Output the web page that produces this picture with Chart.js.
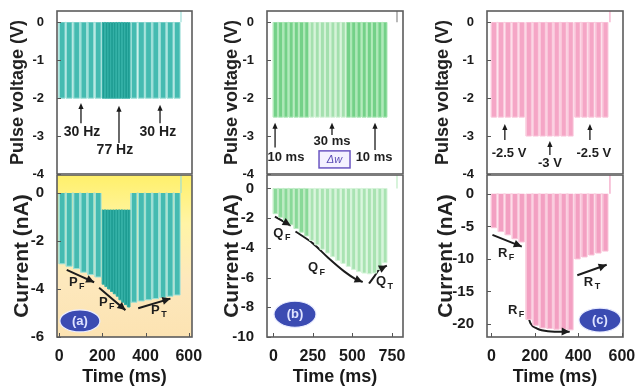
<!DOCTYPE html>
<html>
<head>
<meta charset="utf-8">
<script src="https://cdn.jsdelivr.net/npm/chart.js@4.4.1/dist/chart.umd.min.js"></script>
<style>
  html, body { margin: 0; padding: 0; background: #ffffff; }
  #fig { position: relative; width: 636px; height: 387px; overflow: hidden; background: #ffffff; }
  #fig canvas { position: absolute; }
</style>
</head>
<body>
<div id="fig"></div>
<script>
const FONT = "'Liberation Sans', Arial, Helvetica, sans-serif";

// ---------- Panel (a): 30 Hz -> 77 Hz -> 30 Hz trains at -2 V ----------
const aTimeTicks = [0, 200, 400, 600];
const aVoltTicks = [0, -1, -2, -3, -4];
const aCurrTicks = [0, -2, -4, -6];
const aOnsetsA = [0, 33, 67, 100, 133, 167];
const aOnsetsB = [200, 213, 226, 239, 252, 265, 278, 291, 304, 317];
const aOnsetsC = [333, 367, 400, 433, 467, 500, 533];
const aWidthSlow = 27, aWidthFast = 11;      // pulse length, ms
const aPulseV = -2;
const aPeaksA = [-2.95, -3.05, -3.15, -3.3, -3.4, -3.5];
const aPeaksB = [-3.8, -3.9, -4.0, -4.1, -4.2, -4.3, -4.45, -4.55, -4.65, -4.75];
const aPeaksC = [-4.55, -4.5, -4.45, -4.4, -4.35, -4.3, -4.25];
const aRestB = -0.7;                           // current does not recover between 77 Hz pulses
const aTail = 564;
const aTrend1 = [[35, -3.2], [162, -3.72]];
const aTrend2 = [[185, -3.95], [307, -4.88]];
const aTrend3 = [[366, -4.8], [515, -4.4]];

// ---------- Panel (b): pulse width 10 ms -> 30 ms -> 10 ms at -2.5 V ----------
const bTimeTicks = [0, 250, 500, 750];
const bVoltTicks = [0, -1, -2, -3, -4];
const bCurrTicks = [0, -2, -4, -6, -8, -10];
const bOnsetsA = [0, 33, 66, 99, 132, 165, 198];
const bOnsetsB = [231, 264, 297, 330, 363, 396, 429];
const bOnsetsC = [462, 495, 528, 561, 594, 627, 660, 693];
const bWidth = 26;
const bPulseV = -2.5;
const bPeaksA = [-1.7, -1.95, -2.2, -2.45, -2.7, -2.95, -3.2];
const bPeaksB = [-3.5, -3.8, -4.1, -4.35, -4.6, -4.85, -5.05];
const bPeaksC = [-5.25, -5.45, -5.6, -5.7, -5.75, -5.7, -5.45, -5.0];
const bTail = 782;
const bTrend1 = [[10, -1.9], [110, -2.5]];
const bTrend2 = [[140, -2.9], [250, -3.7], [350, -4.7], [450, -5.6], [520, -6.1], [565, -6.3]];
const bTrend3 = [[605, -6.4], [640, -5.9], [670, -5.45], [718, -5.2]];

// ---------- Panel (c): amplitude -2.5 V -> -3 V -> -2.5 V ----------
const cTimeTicks = [0, 200, 400, 600];
const cVoltTicks = [0, -1, -2, -3, -4];
const cCurrTicks = [0, -5, -10, -15, -20];
const cOnsetsA = [0, 32, 64, 96, 128];
const cOnsetsB = [160, 192, 224, 256, 288, 320, 352];
const cOnsetsC = [384, 416, 448, 480, 512];
const cWidth = 24;
const cLevels = [-2.5, -3, -2.5];
const cPeaksA = [-5.2, -5.8, -6.3, -6.9, -7.4];
const cPeaksB = [-19.3, -20.2, -20.6, -20.7, -20.8, -20.8, -20.9];
const cPeaksC = [-10.0, -9.7, -9.4, -9.1, -8.8];
const cTail = 545;
const cTrend1 = [[5, -6.3], [140, -8.1]];
const cTrend2 = [[165, -18.3], [180, -19.9], [210, -20.7], [260, -21.1], [360, -21.2]];
const cTrend3 = [[395, -12.5], [530, -10.9]];

// ---------- helpers ----------
const fig = document.getElementById('fig');
function addCanvas(left, top, w, h) {
  const c = document.createElement('canvas');
  c.width = w; c.height = h;
  c.style.left = left + 'px'; c.style.top = top + 'px';
  c.style.width = w + 'px'; c.style.height = h + 'px';
  fig.appendChild(c);
  return c;
}

// rectangular pulses: rest -> peak -> rest for every onset
function pulseTrace(onsets, width, peaks, rest) {
  const pts = [];
  onsets.forEach((t, i) => {
    const p = Array.isArray(peaks) ? peaks[i] : peaks;
    pts.push({x: t, y: rest}, {x: t, y: p}, {x: t + width, y: p}, {x: t + width, y: rest});
  });
  return pts;
}
function pulseSet(points, fill, edge, rest) {
  return {data: points, backgroundColor: fill, borderColor: edge, borderWidth: 1,
          fill: {value: rest}, pointRadius: 0, tension: 0};
}
function tailSet(t, top, color) {
  return {data: [{x: t, y: 0}, {x: t, y: top}], borderColor: color, borderWidth: 1.2,
          fill: false, pointRadius: 0, tension: 0};
}
function trendSet(points) {
  return {data: points.map(([x, y]) => ({x, y})), borderColor: '#1c1c1c', borderWidth: 2,
          fill: false, pointRadius: 0, cubicInterpolationMode: 'monotone', arrowHead: true};
}

function arrowHead(ctx, x0, y0, x1, y1, len, half, color) {
  const ang = Math.atan2(y1 - y0, x1 - x0);
  const c = Math.cos(ang), s = Math.sin(ang);
  ctx.save();
  ctx.fillStyle = color;
  ctx.beginPath();
  ctx.moveTo(x1, y1);
  ctx.lineTo(x1 - len * c - half * s, y1 - len * s + half * c);
  ctx.lineTo(x1 - len * c + half * s, y1 - len * s - half * c);
  ctx.closePath();
  ctx.fill();
  ctx.restore();
}

function makeDecor(d) {
  return {
    id: 'decor',
    beforeDraw(chart) {
      if (!d.bg) return;
      const {ctx, chartArea: a} = chart;
      const g = ctx.createLinearGradient(0, a.top, 0, a.bottom);
      d.bg.forEach(([o, col]) => g.addColorStop(o, col));
      ctx.save(); ctx.fillStyle = g; ctx.fillRect(a.left, a.top, a.width, a.height); ctx.restore();
    },
    afterDatasetsDraw(chart) {
      const ctx = chart.ctx;
      chart.data.datasets.forEach((ds, i) => {
        if (!ds.arrowHead) return;
        const pts = chart.getDatasetMeta(i).data;
        const p0 = pts[pts.length - 2], p1 = pts[pts.length - 1];
        arrowHead(ctx, p0.x, p0.y, p1.x, p1.y, 8, 4, ds.borderColor);
      });
    },
    afterDraw(chart) {
      const {ctx, chartArea: a, scales: {x, y}} = chart;
      ctx.save();
      // inward tick marks
      ctx.strokeStyle = '#555'; ctx.lineWidth = 1;
      y.ticks.forEach(tk => {
        const py = Math.round(y.getPixelForValue(tk.value)) + 0.5;
        ctx.beginPath(); ctx.moveTo(a.left, py); ctx.lineTo(a.left + 4, py); ctx.stroke();
      });
      if (d.showX) {
        x.ticks.forEach(tk => {
          const px = Math.round(x.getPixelForValue(tk.value)) + 0.5;
          ctx.beginPath(); ctx.moveTo(px, a.bottom); ctx.lineTo(px, a.bottom - 4); ctx.stroke();
        });
      }
      // frame
      ctx.strokeStyle = '#5c5c5c'; ctx.lineWidth = 1.6;
      ctx.strokeRect(a.left, a.top, a.width, a.height);
      // upward pointers
      (d.arrows || []).forEach(ar => {
        const px = x.getPixelForValue(ar.x), y0 = y.getPixelForValue(ar.from), y1 = y.getPixelForValue(ar.to);
        ctx.strokeStyle = '#1a1a1a'; ctx.lineWidth = 1.3;
        ctx.beginPath(); ctx.moveTo(px, y0); ctx.lineTo(px, y1 + 4); ctx.stroke();
        arrowHead(ctx, px, y0, px, y1, 6, 2.6, '#1a1a1a');
      });
      // boxed label
      if (d.box) {
        const b = d.box;
        const x0 = x.getPixelForValue(b.x0), x1 = x.getPixelForValue(b.x1);
        const y0 = y.getPixelForValue(b.y0), y1 = y.getPixelForValue(b.y1);
        ctx.fillStyle = '#f4f1ff'; ctx.fillRect(x0, y0, x1 - x0, y1 - y0);
        ctx.strokeStyle = '#6b56c2'; ctx.lineWidth = 1.5; ctx.strokeRect(x0, y0, x1 - x0, y1 - y0);
        ctx.fillStyle = '#5a4bb5'; ctx.font = 'italic 11px ' + FONT;
        ctx.textAlign = 'center'; ctx.textBaseline = 'middle';
        ctx.fillText(b.text, (x0 + x1) / 2, (y0 + y1) / 2 + 0.5);
      }
      // text notes
      (d.notes || []).forEach(n => {
        const px = x.getPixelForValue(n.x), py = y.getPixelForValue(n.y);
        ctx.fillStyle = '#1e1e1e';
        ctx.textBaseline = 'middle';
        ctx.font = 'bold ' + n.size + 'px ' + FONT;
        if (n.sub) {
          ctx.textAlign = 'left';
          ctx.fillText(n.text, px, py);
          const w = ctx.measureText(n.text).width;
          ctx.font = 'bold ' + Math.round(n.size * 0.68) + 'px ' + FONT;
          ctx.fillText(n.sub, px + w + 1.5, py + n.size * 0.35);
        } else {
          ctx.textAlign = 'center';
          ctx.fillText(n.text, px, py);
        }
      });
      // panel badge
      if (d.badge) {
        const bd = d.badge;
        const px = x.getPixelForValue(bd.x), py = y.getPixelForValue(bd.y);
        ctx.beginPath(); ctx.ellipse(px, py, bd.rx, bd.ry, 0, 0, Math.PI * 2);
        ctx.fillStyle = '#3b4bb2'; ctx.fill();
        ctx.strokeStyle = '#e9ecff'; ctx.lineWidth = 1.2; ctx.stroke();
        ctx.fillStyle = '#dfe3ff'; ctx.font = 'bold 13px ' + FONT;
        ctx.textAlign = 'center'; ctx.textBaseline = 'middle';
        ctx.fillText(bd.text, px, py + 0.5);
      }
      ctx.restore();
    }
  };
}

function makePanel(cfg) {
  const canvas = addCanvas(cfg.left, cfg.top, cfg.width, cfg.height);
  const ink = '#1a1a1a';
  return new Chart(canvas, {
    type: 'line',
    data: {datasets: cfg.datasets},
    options: {
      responsive: false, animation: false, events: [],
      layout: {padding: cfg.padding},
      plugins: {legend: {display: false}, tooltip: {enabled: false}},
      scales: {
        x: {
          type: 'linear', min: cfg.xMin, max: cfg.xMax, display: cfg.showX,
          grid: {display: false}, border: {display: false},
          ticks: {font: {family: FONT, size: 16, weight: 'bold'}, color: ink, padding: 2,
                  autoSkip: false, maxRotation: 0},
          title: {display: cfg.showX, text: 'Time (ms)', color: ink,
                  font: {family: FONT, size: 18, weight: 'bold', lineHeight: 1},
                  padding: {top: 0, bottom: 1}},
          afterBuildTicks: s => { s.ticks = cfg.xTicks.map(v => ({value: v})); },
          afterFit: s => { if (cfg.showX) { s.height = 50; } s.paddingLeft = 0; s.paddingRight = 0; }
        },
        y: {
          type: 'linear', min: cfg.yMin, max: cfg.yMax,
          grid: {display: false}, border: {display: false},
          ticks: {font: {family: FONT, size: cfg.tickSize, weight: 'bold'}, color: ink, padding: 5,
                  autoSkip: false},
          title: {display: true, text: cfg.yTitle, color: '#222',
                  font: {family: FONT, size: cfg.yTitleSize, weight: 'bold', lineHeight: 1},
                  padding: {top: cfg.yTitlePad, bottom: 0}},
          afterBuildTicks: s => { s.ticks = cfg.yTicks.map(v => ({value: v})); },
          afterFit: s => { s.width = 57; s.paddingTop = 0; s.paddingBottom = 0; }
        }
      }
    },
    plugins: [makeDecor(Object.assign({showX: cfg.showX}, cfg.decor))]
  });
}

// ---------- colours ----------
const TEAL = '#45bbb1', TEAL_EDGE = '#9ddfd8', TEAL_DARK = '#1f9d93', TEAL_DARK_EDGE = '#34b0a6';
const GREEN = '#74d188', GREEN_EDGE = '#ade8b7', GREEN_MID = '#a4e0ae', GREEN_MID_EDGE = '#d2f2d6';
const GREEN_LO = '#89d998', GREEN_LO_EDGE = '#bdebc3', GREEN_LO_MID = '#a9e3b2', GREEN_LO_MID_EDGE = '#d6f4da';
const PINK = '#f5a6c6', PINK_EDGE = '#fac9dc', PINK_LO = '#f3a0c2', PINK_LO_EDGE = '#f9c5d9';

// ---------- (a) ----------
makePanel({
  left: 0, top: 0, width: 212, height: 190, padding: {left: 0, top: 11, right: 20, bottom: 16},
  xMin: -10, xMax: 615, yMin: -4, yMax: 0.3, xTicks: aTimeTicks, yTicks: aVoltTicks, showX: false,
  tickSize: 13, yTitle: 'Pulse voltage (V)', yTitleSize: 18, yTitlePad: 9,
  datasets: [
    pulseSet(pulseTrace(aOnsetsA, aWidthSlow, aPulseV, 0), TEAL, TEAL_EDGE, 0),
    pulseSet(pulseTrace(aOnsetsB, aWidthFast, aPulseV, 0), TEAL_DARK, TEAL_DARK_EDGE, 0),
    pulseSet(pulseTrace(aOnsetsC, aWidthSlow, aPulseV, 0), TEAL, TEAL_EDGE, 0),
    tailSet(aTail, 1, TEAL_EDGE)
  ],
  decor: {
    arrows: [{x: 101, from: -2.66, to: -2.13}, {x: 277, from: -3.18, to: -2.2}, {x: 467, from: -2.66, to: -2.17}],
    notes: [{x: 106, y: -2.9, text: '30 Hz', size: 14}, {x: 258, y: -3.37, text: '77 Hz', size: 14},
            {x: 457, y: -2.9, text: '30 Hz', size: 14}]
  }
});
makePanel({
  left: 0, top: 175, width: 212, height: 212, padding: {left: 0, top: 0, right: 20, bottom: 0},
  xMin: -10, xMax: 615, yMin: -6, yMax: 0.75, xTicks: aTimeTicks, yTicks: aCurrTicks, showX: true,
  tickSize: 15, yTitle: 'Current (nA)', yTitleSize: 21, yTitlePad: 12,
  datasets: [
    pulseSet(pulseTrace(aOnsetsA, aWidthSlow, aPeaksA, 0), TEAL, TEAL_EDGE, 0),
    pulseSet(pulseTrace(aOnsetsB, aWidthFast, aPeaksB, aRestB), TEAL_DARK, TEAL_DARK_EDGE, aRestB),
    pulseSet(pulseTrace(aOnsetsC, aWidthSlow, aPeaksC, 0), TEAL, TEAL_EDGE, 0),
    tailSet(aTail, 1, TEAL_EDGE),
    trendSet(aTrend1), trendSet(aTrend2), trendSet(aTrend3)
  ],
  decor: {
    bg: [[0, '#fff06a'], [0.3, '#fff4a6'], [0.65, '#fde8bd'], [1, '#fce3b2']],
    notes: [{x: 45, y: -3.71, text: 'P', sub: 'F', size: 13}, {x: 184, y: -4.54, text: 'P', sub: 'F', size: 13},
            {x: 425, y: -4.88, text: 'P', sub: 'T', size: 13}],
    badge: {x: 96, y: -5.33, rx: 20, ry: 11, text: '(a)'}
  }
});

// ---------- (b) ----------
makePanel({
  left: 210, top: 0, width: 211, height: 190, padding: {left: 0, top: 11, right: 18, bottom: 16},
  xMin: -40, xMax: 820, yMin: -4, yMax: 0.3, xTicks: bTimeTicks, yTicks: bVoltTicks, showX: false,
  tickSize: 13, yTitle: 'Pulse voltage (V)', yTitleSize: 18, yTitlePad: 13,
  datasets: [
    pulseSet(pulseTrace(bOnsetsA, bWidth, bPulseV, 0), GREEN, GREEN_EDGE, 0),
    pulseSet(pulseTrace(bOnsetsB, bWidth, bPulseV, 0), GREEN_MID, GREEN_MID_EDGE, 0),
    pulseSet(pulseTrace(bOnsetsC, bWidth, bPulseV, 0), GREEN, GREEN_EDGE, 0),
    tailSet(bTail, 1, '#8a8a8a')
  ],
  decor: {
    arrows: [{x: 11, from: -3.3, to: -2.65}, {x: 371, from: -2.97, to: -2.65}, {x: 643, from: -3.37, to: -2.65}],
    notes: [{x: 80, y: -3.55, text: '10 ms', size: 13}, {x: 371, y: -3.13, text: '30 ms', size: 13},
            {x: 637, y: -3.55, text: '10 ms', size: 13}],
    box: {x0: 289, x1: 485, y0: -3.39, y1: -3.84, text: 'Δw'}
  }
});
makePanel({
  left: 210, top: 175, width: 211, height: 212, padding: {left: 0, top: 0, right: 18, bottom: 0},
  xMin: -40, xMax: 820, yMin: -10, yMax: 0.9, xTicks: bTimeTicks, yTicks: bCurrTicks, showX: true,
  tickSize: 15, yTitle: 'Current (nA)', yTitleSize: 21, yTitlePad: 12,
  datasets: [
    pulseSet(pulseTrace(bOnsetsA, bWidth, bPeaksA, 0), GREEN_LO, GREEN_LO_EDGE, 0),
    pulseSet(pulseTrace(bOnsetsB, bWidth, bPeaksB, 0), GREEN_LO_MID, GREEN_LO_MID_EDGE, 0),
    pulseSet(pulseTrace(bOnsetsC, bWidth, bPeaksC, 0), GREEN_LO_MID, GREEN_LO_MID_EDGE, 0),
    tailSet(bTail, 1, GREEN_LO_EDGE),
    trendSet(bTrend1), trendSet(bTrend2), trendSet(bTrend3)
  ],
  decor: {
    notes: [{x: 0, y: -3.03, text: 'Q', sub: 'F', size: 13}, {x: 219, y: -5.33, text: 'Q', sub: 'F', size: 13},
            {x: 649, y: -6.28, text: 'Q', sub: 'T', size: 13}],
    badge: {x: 137, y: -8.47, rx: 21, ry: 13, text: '(b)'}
  }
});

// ---------- (c) ----------
makePanel({
  left: 430, top: 0, width: 206, height: 190, padding: {left: 0, top: 11, right: 13, bottom: 16},
  xMin: -20, xMax: 605, yMin: -4, yMax: 0.3, xTicks: cTimeTicks, yTicks: cVoltTicks, showX: false,
  tickSize: 13, yTitle: 'Pulse voltage (V)', yTitleSize: 18, yTitlePad: 4.5,
  datasets: [
    pulseSet(pulseTrace(cOnsetsA, cWidth, cLevels[0], 0), PINK, PINK_EDGE, 0),
    pulseSet(pulseTrace(cOnsetsB, cWidth, cLevels[1], 0), PINK, PINK_EDGE, 0),
    pulseSet(pulseTrace(cOnsetsC, cWidth, cLevels[2], 0), PINK, PINK_EDGE, 0),
    tailSet(cTail, 1, PINK)
  ],
  decor: {
    arrows: [{x: 62, from: -3.1, to: -2.68}, {x: 269, from: -3.5, to: -3.13}, {x: 453, from: -3.1, to: -2.68}],
    notes: [{x: 81, y: -3.47, text: '-2.5 V', size: 13}, {x: 269, y: -3.73, text: '-3 V', size: 13},
            {x: 471, y: -3.47, text: '-2.5 V', size: 13}]
  }
});
makePanel({
  left: 430, top: 175, width: 206, height: 212, padding: {left: 0, top: 0, right: 13, bottom: 0},
  xMin: -20, xMax: 605, yMin: -22, yMax: 2.9, xTicks: cTimeTicks, yTicks: cCurrTicks, showX: true,
  tickSize: 15, yTitle: 'Current (nA)', yTitleSize: 21, yTitlePad: 6,
  datasets: [
    pulseSet(pulseTrace(cOnsetsA, cWidth, cPeaksA, 0), PINK_LO, PINK_LO_EDGE, 0),
    pulseSet(pulseTrace(cOnsetsB, cWidth, cPeaksB, 0), PINK_LO, PINK_LO_EDGE, 0),
    pulseSet(pulseTrace(cOnsetsC, cWidth, cPeaksC, 0), PINK_LO, PINK_LO_EDGE, 0),
    tailSet(cTail, 3, PINK_LO),
    trendSet(cTrend1), trendSet(cTrend2), trendSet(cTrend3)
  ],
  decor: {
    notes: [{x: 30, y: -9.08, text: 'R', sub: 'F', size: 13}, {x: 76, y: -17.85, text: 'R', sub: 'F', size: 13},
            {x: 425, y: -13.54, text: 'R', sub: 'T', size: 13}],
    badge: {x: 499, y: -19.4, rx: 21, ry: 12, text: '(c)'}
  }
});
</script>
</body>
</html>
